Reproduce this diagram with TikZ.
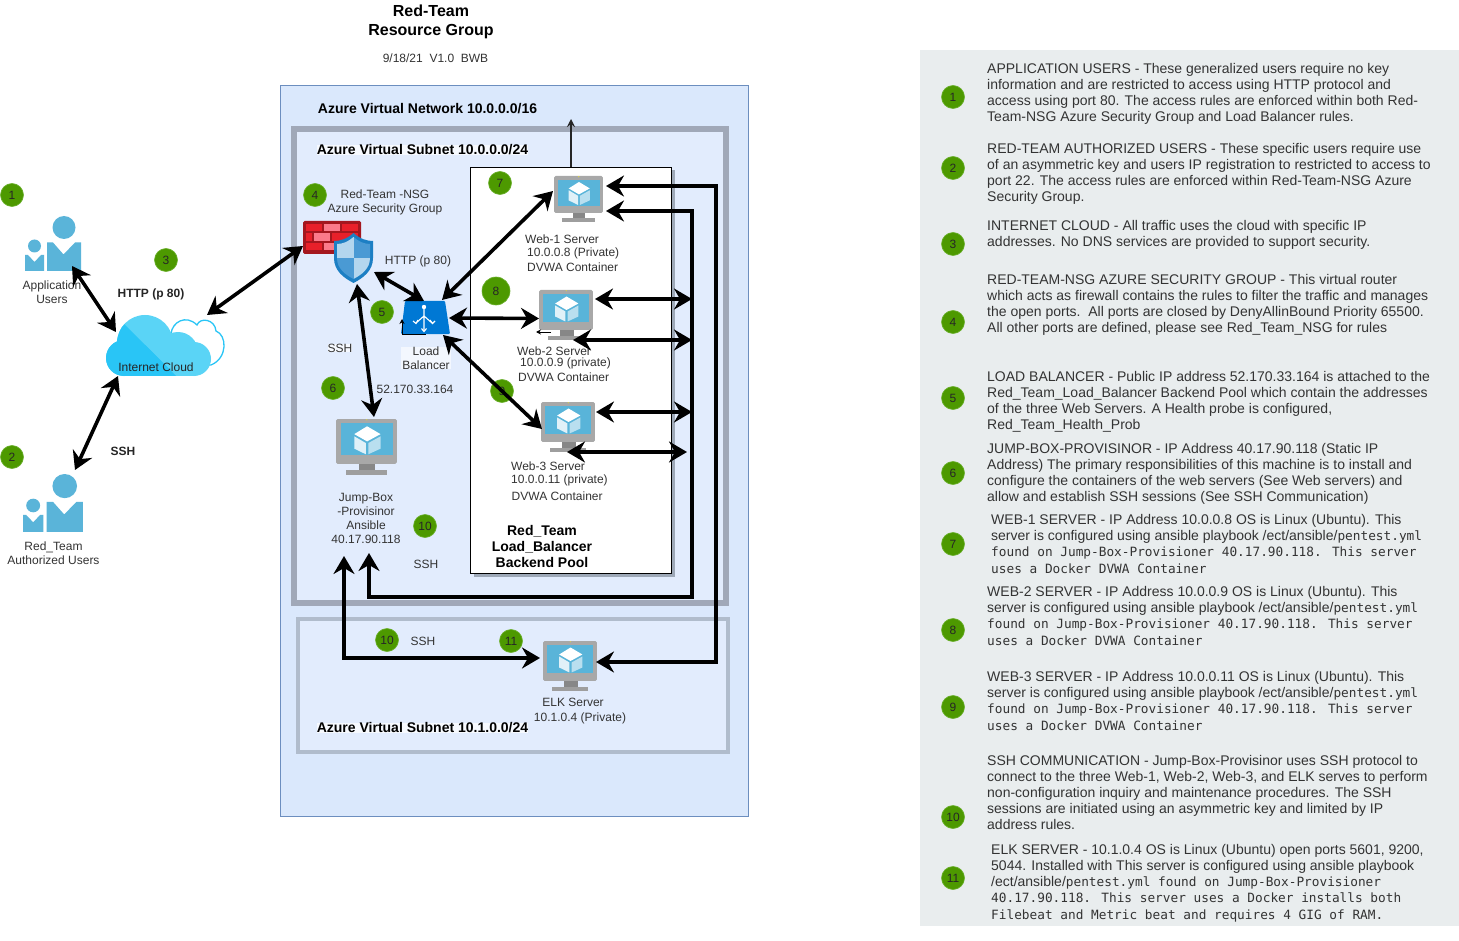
\documentclass[tikz,border=0pt]{standalone}
\usepackage{fontspec}
\setmainfont{Liberation Sans}
\newfontfamily\monof{DejaVu Sans Mono}
\usetikzlibrary{arrows.meta,calc}
\definecolor{vnetfill}{HTML}{DAE8FC}
\definecolor{vnetline}{HTML}{6C8EBF}
\definecolor{subfill}{HTML}{E2ECFD}
\definecolor{subline}{HTML}{A0A8B8}
\definecolor{sub2line}{HTML}{B0BCCC}
\definecolor{panel}{HTML}{E9EDEE}
\definecolor{badgefill}{HTML}{4D9900}
\definecolor{badgeline}{HTML}{6AB02C}
\definecolor{txt}{HTML}{333333}
\definecolor{mscreen}{HTML}{59B4D9}
\definecolor{mframe}{HTML}{A8A8A8}
\definecolor{cdark}{HTML}{29C5F6}
\definecolor{clight}{HTML}{5AD4F6}
\definecolor{usr}{HTML}{5AB4D9}
\definecolor{azure}{HTML}{0078D4}
\definecolor{fwbg}{HTML}{A4171F}
\definecolor{fwred}{HTML}{E8202A}
\definecolor{fwpink}{HTML}{FB7A8A}
\definecolor{shout}{HTML}{1C7FC4}
\definecolor{shlight}{HTML}{B3D6EE}
\definecolor{shmid}{HTML}{4A9AD4}
\tikzset{
 badge/.style={circle,fill=badgefill,draw=badgeline,line width=0.6pt,inner sep=0,minimum size=23pt,font=\fontsize{12}{14}\selectfont,text=black!85},
 lbl/.style={font=\fontsize{12}{14}\selectfont,text=txt,align=center,inner sep=0},
 lbll/.style={lbl,anchor=west},
 blbl/.style={font=\bfseries\fontsize{14}{16}\selectfont,text=black,align=center,inner sep=0},
 para/.style={anchor=north west,inner sep=0,align=left,font=\fontsize{14}{16}\selectfont,text=txt},
 iconbox/.style={inner sep=0,outer sep=0,draw=none},
 box/.style={inner sep=0,outer sep=0,anchor=north west},
 dbl/.style={line width=3.6pt,black,{Stealth[length=18pt,width=21pt,inset=6pt]}-{Stealth[length=18pt,width=21pt,inset=6pt]}},
}
\newcommand{\ps}{\rule{0pt}{11pt}}
\newcommand{\mo}[1]{{\monof\fontsize{12.77}{16}\selectfont #1}}
\newcommand{\monitor}[5]{%
 \begin{scope}[shift={(#2,#3)},x=#4*0.01pt,y=-#5*0.01pt]
  \fill[gray!75!black!75] (38,78) rectangle (64,93);
  \fill[black!38] (17,92) rectangle (83,100);
  \fill[mframe,rounded corners=1.5pt] (0,0) rectangle (100,80);
  \fill[mscreen] (7.5,8) rectangle (93,65);
  \fill[yellow!70!gray] (50.5,1.5) circle (0.7pt);
  \fill[white] (51,13) -- (73,27) -- (51,40) -- (30,27) -- cycle;
  \fill[white!70!mscreen!60!white] (30,31) -- (49,43) -- (49,63) -- (30,53) -- cycle;
  \fill[white!40!mscreen!70!white] (53,43) -- (73,31) -- (73,53) -- (53,63) -- cycle;
 \end{scope}
 \node[iconbox,minimum width=#4pt,minimum height=#5pt,anchor=north west] (#1) at (#2,#3) {};}
\newcommand{\person}[4]{%
 \begin{scope}[shift={(#1,#2)},xscale=#3,yscale=#4]
  \fill[usr] (39,11.5) circle (11.5);
  \fill[usr] (22,26.5) -- (28,26.5) -- (38.5,38.5) -- (50,26.5) -- (56,26.5) -- (56,55) -- (22,55) -- cycle;
  \fill[usr] (9.5,30) circle (6.5);
  \fill[usr] (0,39) -- (3,39) -- (9.5,46) -- (16,39) -- (19,39) -- (19,55) -- (0,55) -- cycle;
 \end{scope}}
\begin{document}
\begin{tikzpicture}[x=1pt,y=-1pt]
\useasboundingbox (0,0) rectangle (1459,941);
\fill[white] (0,0) rectangle (1459,941);
% title
\node[blbl,font=\bfseries\fontsize{16}{19}\selectfont] (title) at (431,21.5) {Red-Team\\Resource Group};
\node[lbl] (date) at (435.5,58) {9/18/21\ \ V1.0\ \ BWB};
% containers
\node[box,draw=vnetline,fill=vnetfill,line width=0.8pt,minimum width=468pt,minimum height=731pt] (vnet) at (280,85) {};
\node[box,draw=subline,fill=subfill,line width=6pt,minimum width=432pt,minimum height=473pt] (subnetA) at (294,129.5) {};
\node[box,draw=sub2line,fill=subfill,line width=4pt,minimum width=430pt,minimum height=133pt] (subnetB) at (297.5,618.5) {};
\fill[sub2line!90!black] (473.5,170.5) rectangle (674.5,576.5);
\node[box,draw=black,fill=white,line width=1pt,minimum width=201pt,minimum height=406pt] (pool) at (470.5,167.5) {};
\node[blbl] (vnetlbl) at (427.5,109) {Azure Virtual Network 10.0.0.0/16};
\node[blbl,fill=white!70!subfill] (subAlbl) at (422.5,150) {Azure Virtual Subnet 10.0.0.0/24};
\node[blbl,fill=white!70!subfill] (subBlbl) at (422.5,728) {Azure Virtual Subnet 10.1.0.0/24};
\node[blbl] (poollbl) at (542,546) {Red\_Team\\Load\_Balancer\\Backend Pool};
% users
\person{25}{216}{1}{1}
\node[iconbox,minimum width=56pt,minimum height=55pt] (appusers) at (53,243.5) {};
\person{23}{474}{1.07}{1.05}
\node[iconbox,minimum width=60pt,minimum height=58pt] (redusers) at (53,503) {};
\node[lbl] (applbl) at (52,292) {Application\\Users};
\node[lbl] (redlbl) at (53.5,553) {Red\_Team\\Authorized Users};
% cloud
\path[fill=white,draw=cdark,line width=1.3pt] (171,334) .. controls (172,322) and (186,314) .. (197,325) .. controls (200,317) and (215,319) .. (216,331) .. controls (227,335) and (228,358) .. (211,365) -- (190,365) -- cycle;
\fill[clight] (145,343) circle (28) (124,358) circle (18) (178,352) circle (20) (194,359) circle (17);
\fill[clight] (124,376) rectangle (194,345);
\begin{scope}
 \clip (100,300) -- (176,376) -- (100,376) -- cycle;
 \fill[cdark] (145,343) circle (28) (124,358) circle (18) (178,352) circle (20);
 \fill[cdark] (124,376) rectangle (194,345);
\end{scope}
\node[iconbox,minimum width=119pt,minimum height=61pt] (cloud) at (165.5,345.5) {};
\node[lbl,text=black!85] (cloudlbl) at (156,367) {Internet Cloud};
% firewall
\fill[fwbg,rounded corners=1.5pt] (303,221) rectangle (361,254);
\foreach \xa/\xb/\ya/\yb/\c in {306/322/224/231/fwred,324/340/224/231/fwpink,342/358/224/231/fwred,306/312/233/241/fwred,314/330/233/241/fwpink,332/358/233/241/fwred,306/322/243/250/fwred,324/340/243/250/fwpink,342/358/243/250/fwred}{
 \fill[\c] (\xa,\ya) rectangle (\xb,\yb);}
\node[iconbox,minimum width=58pt,minimum height=33pt] (firewall) at (332,237.5) {};
% shield
\path[fill=shout] (353.5,233) .. controls (360,239) and (367,241) .. (373,241) -- (373,258) .. controls (373,271) and (363,278) .. (353.5,283) .. controls (344,278) and (334,271) .. (334,258) -- (334,241) .. controls (340,241) and (347,239) .. (353.5,233) -- cycle;
\begin{scope}
 \clip (353.5,237) .. controls (359,242) and (365,244) .. (370,244) -- (370,258) .. controls (370,269) and (361,275) .. (353.5,279) .. controls (346,275) and (337,269) .. (337,258) -- (337,244) .. controls (342,244) and (348,242) .. (353.5,237) -- cycle;
 \fill[shlight] (330,230) rectangle (353.5,258);
 \fill[shmid] (353.5,230) rectangle (375,258);
 \fill[shmid] (330,258) rectangle (353.5,285);
 \fill[shlight] (353.5,258) rectangle (375,285);
\end{scope}
\node[iconbox,minimum width=39pt,minimum height=50pt] (shield) at (353.5,258) {};
% load balancer
\path[fill=azure,rounded corners=1pt] (405,301) -- (445,301) -- (450,334) -- (401,334) -- cycle;
\draw[white,line width=1.1pt] (424,307) -- (424,331) (424,316) -- (416,323) (424,316) -- (432,323);
\draw[white,line width=1.1pt] (413,321) -- (416,323.5) -- (418,320) (430,320) -- (432.5,323.5) -- (435,321) (421.5,328.5) -- (424,331.5) -- (426.5,328.5);
\fill[white] (424,307) circle (2.2);
\node[iconbox,minimum width=49pt,minimum height=33pt] (lb) at (425.5,317.5) {};
% monitors
\monitor{web1}{554}{176}{49}{46}
\monitor{web2}{539}{290}{54}{50}
\monitor{web3}{541}{402}{54}{50}
\monitor{jump}{336}{419}{61}{56}
\monitor{elk}{543}{641}{54}{50}
% labels
\node[lbl] (nsglbl) at (385,202) {Red-Team -NSG\\Azure Security Group};
\node[lbl] (http2) at (418,261) {HTTP (p 80)};
\node[lbl,font=\bfseries\fontsize{12}{14}\selectfont,text=black!85] (http1) at (151,294) {HTTP (p 80)};
\node[lbl,font=\bfseries\fontsize{12}{14}\selectfont,text=black!85] (ssh1) at (123,451) {SSH};
\node[lbl,fill=white!70!subfill] (ssh2) at (340,348) {SSH};
\node[lbl] (ssh3) at (426,564) {SSH};
\node[lbl] (ssh4) at (423,641) {SSH};
\node[lbl,fill=white!60!subfill,inner xsep=1pt] (lblbl) at (426,358) {Load\\Balancer};
\node[lbl] (pubip) at (415,389) {52.170.33.164};
\node[lbl] (jumplbl) at (366,518) {Jump-Box\\-Provisinor\\Ansible\\40.17.90.118};
\node[lbll] (w1a) at (525,239) {Web-1 Server};
\node[lbll] (w1b) at (527,253) {10.0.0.8 (Private)};
\node[lbll] (w1c) at (527,267) {DVWA Container};
\node[lbll] (w2a) at (517,351) {Web-2 Server};
\node[lbll] (w2b) at (520,363) {10.0.0.9 (private)};
\node[lbll] (w2c) at (518,377) {DVWA Container};
\node[lbll] (w3a) at (511,466) {Web-3 Server};
\node[lbll] (w3b) at (511,480.5) {10.0.0.11 (private)};
\node[lbll] (w3c) at (511.5,496) {DVWA Container};
\node[lbl] (elk1) at (573,702) {ELK Server};
\node[lbl] (elk2) at (580,718.5) {10.1.0.4 (Private)};
% badges
\node[badge] (b1) at (12,195) {1};
\node[badge] (b2) at (12,457) {2};
\node[badge] (b3) at (166,260) {3};
\node[badge] (b4) at (315,195) {4};
\node[badge] (b5) at (382,312) {5};
\node[badge] (b6) at (333,388) {6};
\node[badge] (b7) at (500,183) {7};
\node[badge,minimum size=28pt] (b8) at (496,291) {8};
\node[badge] (b9) at (502,391) {9};
\node[badge] (b10a) at (425,526) {10};
\node[badge] (b10b) at (387,640) {10};
\node[badge] (b11) at (511,641) {11};
% connectors
\coordinate (upstub) at (571,119);
\coordinate (busOuter) at (716,400);
\coordinate (busInner) at (692,400);
\coordinate (busBot) at (500,597);
\coordinate (b2a) at (692,299);
\coordinate (b2b) at (692,340);
\coordinate (b3a) at (692,412);
\coordinate (b3b) at (687,452);
\coordinate (jumpA) at ([shift={(-22.5,81)}]jump.south);
\coordinate (jumpB) at ([shift={(2.5,78)}]jump.south);
\coordinate (elkA) at ([shift={(-1,-4)}]elk.east);
\coordinate (elkB) at ([shift={(-3,-8)}]elk.west);
\draw[dbl] ([shift={(19,-5)}]appusers.south) -- ([shift={(10,-13.5)}]cloud.west);
\draw[dbl] ([shift={(22,-4)}]redusers.north) -- ([shift={(-47.5,0)}]cloud.south);
\draw[dbl] ([shift={(41.5,0)}]cloud.north) -- ([shift={(0,8.5)}]firewall.west);
\draw[dbl] ([shift={(1,14)}]shield.east) -- ([shift={(-1.5,0)}]lb.north);
\draw[dbl] ([shift={(3.5,1)}]shield.south) -- ([shift={(7.5,-2)}]jump.north);
\draw[dbl] ([shift={(16.5,-1)}]lb.north) -- ([shift={(-1,-8)}]web1.west);
\draw[dbl] ([shift={(-1,0.5)}]lb.east) -- ([shift={(0,3.5)}]web2.west);
\draw[dbl] ([shift={(17.5,1)}]lb.south) -- ([shift={(1,2)}]web3.west);
\draw[line width=1.3pt,black!70!gray,-{Stealth[length=8pt,width=8pt]}] (pool.north) -- (upstub);
\draw[line width=1pt,black,-{Stealth[length=5pt,width=5pt]}] (lb.south) -| ([shift={(1,-15)}]lb.south west);
\draw[line width=1pt,black,-{Stealth[length=5pt,width=5pt]}] ([shift={(12,17)}]web2.west) -- ++(-15,0);
\draw[dbl] ([shift={(3,-13)}]web1.east) -| (busOuter) |- (elkA);
\draw[dbl] ([shift={(3,12)}]web1.east) -| (busInner) |- (busBot) -| (jumpB);
\draw[dbl] (jumpA) |- (elkB);
\draw[dbl] ([shift={(2,-16)}]web2.east) -- (b2a);
\draw[dbl] ([shift={(-20,25)}]web2.east) -- (b2b);
\draw[dbl] ([shift={(1,-15)}]web3.east) -- (b3a);
\draw[dbl] ([shift={(-28,25)}]web3.east) -- (b3b);
% right panel
\fill[panel] (920,50) rectangle (1459,926);
\foreach \n/\yy/\t in {p1/97/1,p2/168/2,p3/244/3,p4/322/4,p5/398/5,p6/473/6,p7/544/7,p8/630/8,p9/707/9,p10/817/10,p11/878/11}{
 \node[badge] (\n) at (953,\yy) {\t};}
\node[para] (t1) at (987,62) {\ps APPLICATION USERS - These generalized users require no key\\information and are restricted to access using HTTP protocol and\\access using port 80. The access rules are enforced within both Red-\\Team-NSG Azure Security Group and Load Balancer rules.};
\node[para] (t2) at (987,142) {\ps RED-TEAM AUTHORIZED USERS - These specific users require use\\of an asymmetric key and users IP registration to restricted to access to\\port 22. The access rules are enforced within Red-Team-NSG Azure\\Security Group.};
\node[para] (t3) at (987,219) {\ps INTERNET CLOUD - All traffic uses the cloud with specific IP\\addresses. No DNS services are provided to support security.};
\node[para] (t4) at (987,273) {\ps RED-TEAM-NSG AZURE SECURITY GROUP - This virtual router\\which acts as firewall contains the rules to filter the traffic and manages\\the open ports.\ \ All ports are closed by DenyAllinBound Priority 65500.\\All other ports are defined, please see Red\_Team\_NSG for rules};
\node[para] (t5) at (987,370) {\ps LOAD BALANCER - Public IP address 52.170.33.164 is attached to the\\Red\_Team\_Load\_Balancer Backend Pool which contain the addresses\\of the three Web Servers. A Health probe is configured,\\Red\_Team\_Health\_Prob};
\node[para] (t6) at (987,442) {\ps JUMP-BOX-PROVISINOR - IP Address 40.17.90.118 (Static IP\\Address) The primary responsibilities of this machine is to install and\\configure the containers of the web servers (See Web servers) and\\allow and establish SSH sessions (See SSH Communication)};
\node[para] (t7) at (991,513) {\ps WEB-1 SERVER - IP Address 10.0.0.8 OS is Linux (Ubuntu). This\\server is configured using ansible playbook /ect/ansible/\mo{pentest.yml}\\[0.7pt]\mo{found on Jump-Box-Provisioner 40.17.90.118. This server}\\[0.7pt]\mo{uses a Docker DVWA Container}};
\node[para] (t8) at (987,585) {\ps WEB-2 SERVER - IP Address 10.0.0.9 OS is Linux (Ubuntu). This\\server is configured using ansible playbook /ect/ansible/\mo{pentest.yml}\\[0.7pt]\mo{found on Jump-Box-Provisioner 40.17.90.118. This server}\\[0.7pt]\mo{uses a Docker DVWA Container}};
\node[para] (t9) at (987,670) {\ps WEB-3 SERVER - IP Address 10.0.0.11 OS is Linux (Ubuntu). This\\server is configured using ansible playbook /ect/ansible/\mo{pentest.yml}\\[0.7pt]\mo{found on Jump-Box-Provisioner 40.17.90.118. This server}\\[0.7pt]\mo{uses a Docker DVWA Container}};
\node[para] (t10) at (987,754) {\ps SSH COMMUNICATION - Jump-Box-Provisinor uses SSH protocol to\\connect to the three Web-1, Web-2, Web-3, and ELK serves to perform\\non-configuration inquiry and maintenance procedures. The SSH\\sessions are initiated using an asymmetric key and limited by IP\\address rules.};
\node[para] (t11) at (991,843) {\ps ELK SERVER - 10.1.0.4 OS is Linux (Ubuntu) open ports 5601, 9200,\\5044. Installed with This server is configured using ansible playbook\\/ect/ansible/\mo{pentest.yml found on Jump-Box-Provisioner}\\[0.7pt]\mo{40.17.90.118. This server uses a Docker installs both}\\[0.7pt]\mo{Filebeat and Metric beat and requires 4 GIG of RAM.}};
\end{tikzpicture}
\end{document}
